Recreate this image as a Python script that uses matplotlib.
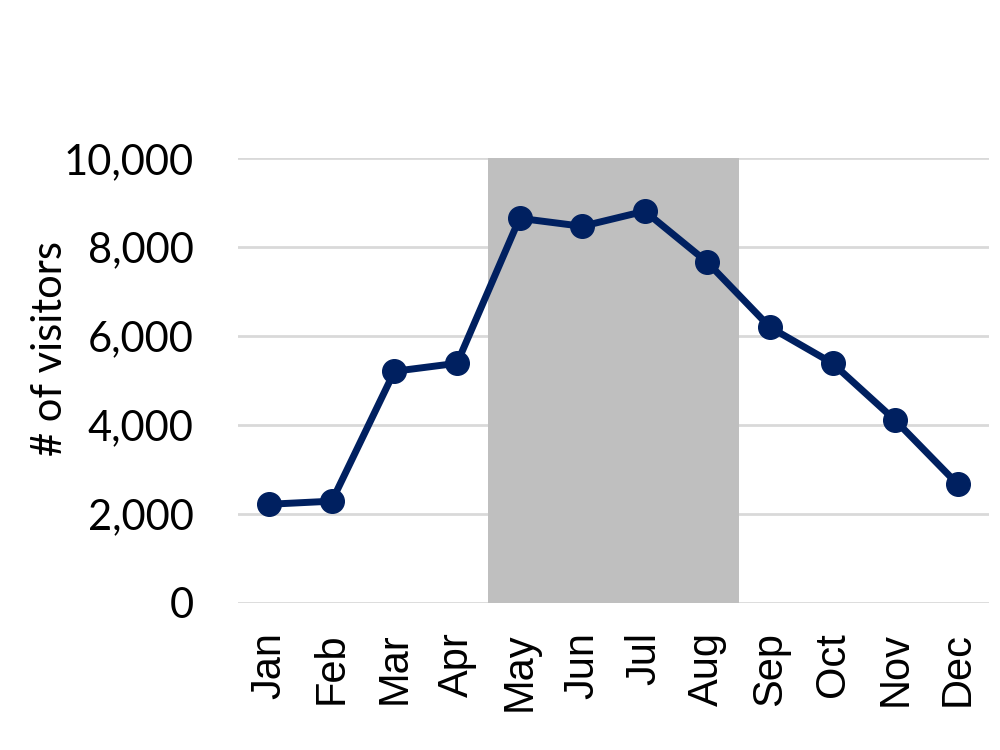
import numpy as np
import matplotlib.pyplot as plt
from matplotlib.ticker import FuncFormatter

months = ['Jan', 'Feb', 'Mar', 'Apr', 'May', 'Jun', 'Jul', 'Aug', 'Sep', 'Oct', 'Nov', 'Dec']
visitors = [2220, 2290, 5210, 5390, 8650, 8470, 8810, 7660, 6200, 5390, 4110, 2670]
summer_start, summer_end = 'May', 'Aug'

plt.rcParams['font.family'] = ['Lato', 'DejaVu Sans']

fig = plt.figure(figsize=(10, 7.5), dpi=100)
ax = fig.add_axes([0.238, 0.196, 0.751, 0.593])

x = np.arange(len(months))
i0, i1 = months.index(summer_start), months.index(summer_end)
ax.axvspan(i0 - 0.5, i1 + 0.5, ymin=0, ymax=1, color='#bfbfbf', zorder=1, lw=0)

ax.plot(x, visitors, color='#002060', lw=5, marker='o', markersize=17, zorder=3)

ax.set_xlim(-0.5, len(months) - 0.5)
ax.set_ylim(0, 10000)
ax.set_yticks(np.arange(0, 10001, 2000))
ax.yaxis.set_major_formatter(FuncFormatter(lambda v, p: f"{int(v):,}"))
ax.set_xticks(x)
ax.set_xticklabels(months, rotation=90, fontsize=30, family=['Liberation Sans', 'DejaVu Sans'])
ax.tick_params(axis='y', labelsize=30, length=0, pad=32)
ax.tick_params(axis='x', length=0, pad=21)

# y label sits a bit above the axis centre, as in the original
fig.text(0.05, 1 - 348 / 750, '# of visitors', rotation=90, fontsize=30,
         ha='center', va='center')

ax.grid(axis='y', color='#d9d9d9', lw=2, zorder=0)
ax.set_axisbelow(True)
for s in ax.spines.values():
    s.set_visible(False)

fig.savefig('out.png', dpi=100)
